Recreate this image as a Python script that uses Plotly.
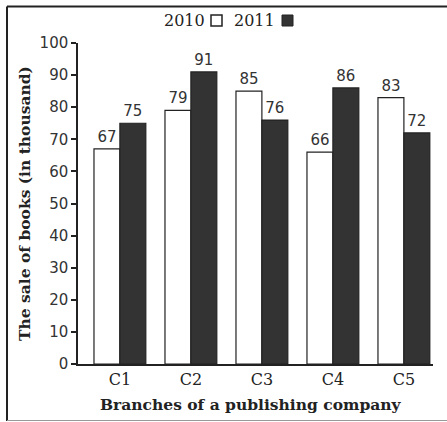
import plotly.graph_objects as go

branches = ["C1", "C2", "C3", "C4", "C5"]
sales_2010 = [67, 79, 85, 66, 83]
sales_2011 = [75, 91, 76, 86, 72]
y_ticks = [0, 10, 20, 30, 40, 50, 60, 70, 80, 90, 100]

W, H = 447, 422
L, R, T, B = 78, 14, 43, 58
pw, ph = W - L - R, H - T - B

def px_x(px):
    return (px - L) / pw

def px_y(py):
    return (H - B - py) / ph

ink = "#222222"
dark = "#333333"
num_font = dict(family="DejaVu Sans", size=15, color=dark)
serif = "DejaVu Serif"

fig = go.Figure()
fig.add_trace(go.Bar(
    x=branches, y=sales_2010, name="2010",
    marker=dict(color="white", line=dict(color=ink, width=1.2)),
    text=[str(v) for v in sales_2010], textposition="outside",
    textfont=num_font, cliponaxis=False,
))
fig.add_trace(go.Bar(
    x=branches, y=sales_2011, name="2011",
    marker=dict(color=dark, line=dict(color=ink, width=1.2)),
    text=[str(v) for v in sales_2011], textposition="outside",
    textfont=num_font, cliponaxis=False,
))

shapes = [
    # outer frame
    dict(type="line", xref="paper", yref="paper", x0=px_x(7), x1=px_x(452),
         y0=px_y(6.5), y1=px_y(6.5), line=dict(color=ink, width=2)),
    dict(type="line", xref="paper", yref="paper", x0=px_x(7), x1=px_x(7),
         y0=px_y(6.5), y1=px_y(421), line=dict(color=ink, width=2)),
    dict(type="line", xref="paper", yref="paper", x0=px_x(7), x1=px_x(452),
         y0=px_y(420.5), y1=px_y(420.5), line=dict(color="#999999", width=1)),
    # legend boxes
    dict(type="rect", xref="paper", yref="paper", x0=px_x(211), x1=px_x(222),
         y0=px_y(26), y1=px_y(15), fillcolor="white", line=dict(color=ink, width=1.5)),
    dict(type="rect", xref="paper", yref="paper", x0=px_x(282), x1=px_x(293),
         y0=px_y(26), y1=px_y(15), fillcolor=dark, line=dict(color=ink, width=1)),
]

annotations = [
    dict(text="2010", xref="paper", yref="paper", x=px_x(207), y=px_y(20.5),
         xanchor="right", yanchor="middle", showarrow=False,
         font=dict(family=serif, size=16, color=ink)),
    dict(text="2011", xref="paper", yref="paper", x=px_x(277), y=px_y(20.5),
         xanchor="right", yanchor="middle", showarrow=False,
         font=dict(family=serif, size=16, color=ink)),
    dict(text="<b>The sale of books (in thousand)</b>", xref="paper", yref="paper",
         x=px_x(25), y=px_y(204), textangle=-90, xanchor="center", yanchor="middle",
         showarrow=False, font=dict(family=serif, size=15.5, color=ink)),
    dict(text="<b>Branches of a publishing company</b>", xref="paper", yref="paper",
         x=px_x(251), y=px_y(405), xanchor="center", yanchor="middle",
         showarrow=False, font=dict(family=serif, size=15.5, color=ink)),
]

fig.update_layout(
    width=W, height=H,
    margin=dict(l=L, r=R, t=T, b=B, pad=0),
    paper_bgcolor="white", plot_bgcolor="white",
    barmode="group", bargap=0.27, bargroupgap=0,
    showlegend=False,
    shapes=shapes, annotations=annotations,
    xaxis=dict(
        type="category", range=[-0.59, 4.41],
        showline=True, linecolor=ink, linewidth=1.5,
        showgrid=False, ticks="", zeroline=False,
        tickfont=dict(family=serif, size=16, color=ink),
    ),
    yaxis=dict(
        range=[0, 100], tickvals=y_ticks,
        showline=True, linecolor=ink, linewidth=1.5,
        showgrid=False, zeroline=False,
        ticks="outside", ticklen=5, tickcolor=ink, tickwidth=1.5,
        tickfont=dict(family="DejaVu Sans", size=15, color=dark),
    ),
)

fig.write_html("out.html",
               config={"displayModeBar": False},
               post_script="document.body.style.margin='0';document.body.style.overflow='hidden';")
